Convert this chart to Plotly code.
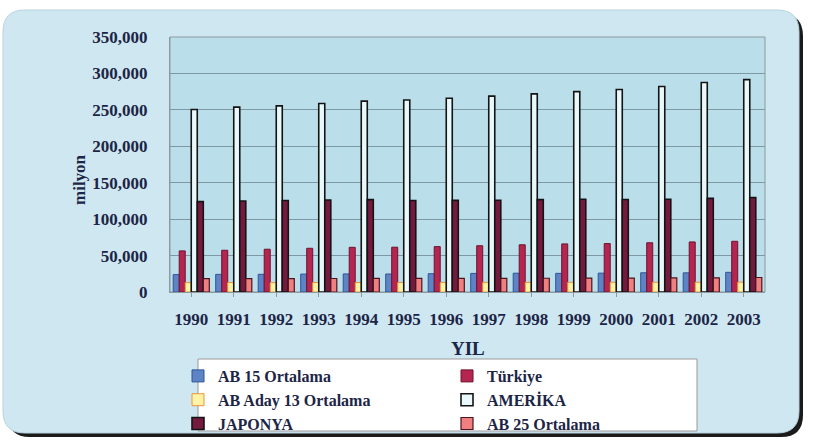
import plotly.graph_objects as go

# ---------------- data ----------------
years = ["1990", "1991", "1992", "1993", "1994", "1995", "1996",
         "1997", "1998", "1999", "2000", "2001", "2002", "2003"]

ab15 = [23900, 24200, 24300, 24600, 24800, 24700, 25100,
        25500, 25800, 25600, 25900, 26400, 26300, 27000]
turkiye = [56400, 57300, 58700, 60000, 61300, 61500, 62300,
           63500, 64800, 66000, 66500, 67600, 68700, 69600]
aday13 = [12800, 12900, 12800, 13000, 13000, 13100, 13100,
          13200, 13200, 13300, 13300, 13400, 13400, 13500]
amerika = [250500, 253800, 255500, 258800, 262000, 263500, 266000,
           268800, 272000, 275000, 278000, 282000, 287500, 291500]
japonya = [124000, 124800, 125600, 126300, 126800, 125500, 125800,
           126000, 126800, 127300, 127000, 127300, 128500, 129500]
ab25 = [18300, 18300, 18300, 18500, 18600, 18600, 18700,
        18800, 18900, 19000, 19100, 19300, 19500, 19900]

series_names = ["AB 15 Ortalama", "Türkiye", "AB Aday 13 Ortalama",
                "AMERİKA", "JAPONYA", "AB 25 Ortalama"]
series_values = [ab15, turkiye, aday13, amerika, japonya, ab25]
fill_colors = ["#5f84c6", "#b4264f", "#fff3a6", "#e9f8fb", "#76193f", "#f07f7f"]
line_colors = ["#2f5596", "#6e1230", "#e8953c", "#141414", "#141414", "#4a1522"]
line_widths = [1, 1, 1, 1.6, 1.6, 1.2]
legend_ids = ["legend", "legend2", "legend", "legend2", "legend", "legend2"]

y_ticks = [0, 50000, 100000, 150000, 200000, 250000, 300000, 350000]
y_ticktext = ["0", "50,000", "100,000", "150,000", "200,000",
              "250,000", "300,000", "350,000"]

# ---------------- geometry helpers ----------------
W, H = 813, 442


def px(x):
    return x / W


def py(y):
    return 1 - y / H


def rrect(x0, y0, x1, y1, r):
    rx, ry = r / W, r / H
    X0, X1 = px(x0), px(x1)
    Y0, Y1 = py(y0), py(y1)  # Y0 top (larger), Y1 bottom
    return (f"M{X0 + rx},{Y0} L{X1 - rx},{Y0} Q{X1},{Y0} {X1},{Y0 - ry} "
            f"L{X1},{Y1 + ry} Q{X1},{Y1} {X1 - rx},{Y1} "
            f"L{X0 + rx},{Y1} Q{X0},{Y1} {X0},{Y1 + ry} "
            f"L{X0},{Y0 - ry} Q{X0},{Y0} {X0 + rx},{Y0} Z")


TXT = "#1c2546"
SERIF = "Liberation Serif"

fig = go.Figure()
for name, vals, fc, lc, lw, lg in zip(series_names, series_values, fill_colors,
                                      line_colors, line_widths, legend_ids):
    fig.add_trace(go.Bar(
        x=years, y=vals, name=name, legend=lg,
        marker=dict(color=fc, line=dict(color=lc, width=lw)),
    ))

plot_l, plot_r, plot_t, plot_b = 170, 765, 37, 292

shapes = [
    # shadow
    dict(type="path", path=rrect(8, 14, 803, 437, 22), xref="paper", yref="paper",
         fillcolor="#1b1b1b", line=dict(width=0), layer="below"),
    # panel
    dict(type="path", path=rrect(3, 10, 799, 433, 22), xref="paper", yref="paper",
         fillcolor="#cfe7f1", line=dict(color="#b8d2dc", width=1), layer="below"),
    # plot background
    dict(type="rect", xref="x domain", yref="y domain", x0=0, x1=1, y0=0, y1=1,
         fillcolor="#bbdfea", line=dict(color="#8c9aa0", width=1), layer="below"),
    # legend box
    dict(type="rect", xref="paper", yref="paper", x0=px(198), x1=px(697),
         y0=py(431), y1=py(359), fillcolor="#ffffff",
         line=dict(color="#9a9a9a", width=1), layer="below"),
]

annotations = [
    dict(text="milyon", x=px(79), y=py(180), xref="paper", yref="paper",
         xanchor="center", yanchor="middle",
         textangle=-90, showarrow=False,
         font=dict(family=SERIF, size=17, color=TXT, weight="bold")),
    dict(text="YIL", x=px(468), y=py(348), xref="paper", yref="paper",
         xanchor="center", yanchor="middle",
         showarrow=False, font=dict(family=SERIF, size=19, color=TXT, weight="bold")),
]

legend_font = dict(family=SERIF, size=16, color=TXT, weight="bold")

fig.update_layout(
    width=W, height=H,
    margin=dict(l=0, r=0, t=0, b=0),
    paper_bgcolor="#ffffff",
    plot_bgcolor="rgba(0,0,0,0)",
    barmode="group",
    bargap=0.15,
    bargroupgap=0.0,
    showlegend=True,
    shapes=shapes,
    annotations=annotations,
    xaxis=dict(
        domain=[px(plot_l), px(plot_r)],
        type="category",
        showgrid=False,
        showline=True, linecolor="#8c9aa0", linewidth=1,
        ticks="outside", ticklen=4, tickcolor="#8c9aa0",
        tickfont=dict(family=SERIF, size=17, color=TXT, weight="bold"),
        ticklabelstandoff=8,
        automargin=False,
        fixedrange=True,
    ),
    yaxis=dict(
        domain=[py(plot_b), py(plot_t)],
        range=[0, 350000],
        tickvals=y_ticks, ticktext=y_ticktext,
        showgrid=True, gridcolor="#7f99a4", gridwidth=1,
        showline=True, linecolor="#8c9aa0", linewidth=1,
        ticks="", zeroline=False,
        tickfont=dict(family=SERIF, size=17, color=TXT, weight="bold"),
        ticklabelstandoff=18,
        automargin=False,
        fixedrange=True,
    ),
    legend=dict(
        x=px(178), y=py(359), xanchor="left", yanchor="top",
        orientation="v", bgcolor="rgba(0,0,0,0)", borderwidth=0,
        font=legend_font, traceorder="normal", tracegroupgap=0,
    ),
    legend2=dict(
        x=px(447), y=py(359), xanchor="left", yanchor="top",
        orientation="v", bgcolor="rgba(0,0,0,0)", borderwidth=0,
        font=legend_font, traceorder="normal", tracegroupgap=0,
    ),
)

fig.write_html("out.html")
